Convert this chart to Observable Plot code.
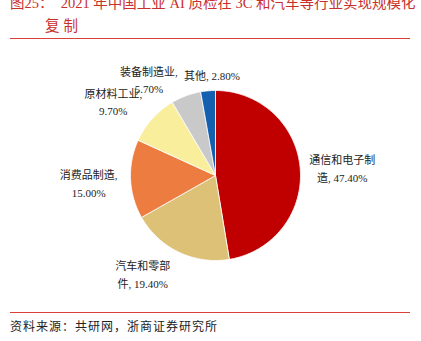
<!DOCTYPE html>
<html>
<head>
<meta charset="utf-8">
<script src="https://cdn.jsdelivr.net/npm/d3@7"></script>
<script src="https://cdn.jsdelivr.net/npm/@observablehq/plot@0.6"></script>
<style>
  html, body { margin: 0; padding: 0; background: #fff; }
  #wrap { position: relative; width: 421px; height: 341px; overflow: hidden; }
  .t { position: absolute; white-space: pre; font-family: 'Liberation Serif', 'Noto Sans CJK SC', serif; }
  #title1 { left: 10px; top: -9px; font-size: 14.5px; color: #c9302c; }
  #title2 { left: 45px; top: 14px; font-size: 14.5px; color: #c9302c; letter-spacing: 4px; }
  .rule { position: absolute; left: 10px; width: 400px; height: 0; border-top: 1.5px solid #d9403a; }
  #source { left: 10px; top: 317px; font-size: 12px; color: #222; letter-spacing: 1px; }
  #chart { position: absolute; left: 0; top: 0; }
</style>
</head>
<body>
<div id="wrap">
  <div id="chart"></div>
  <div class="t" id="title1">图25：  2021 年中国工业 AI 质检在 3C 和汽车等行业实现规模化</div>
  <div class="t" id="title2">复制</div>
  <div class="rule" style="top:38px"></div>
  <div class="rule" style="top:312px"></div>
  <div class="t" id="source">资料来源：共研网，浙商证券研究所</div>
</div>
<script>
// ---- data ----
const categories = ["通信和电子制造", "汽车和零部件", "消费品制造", "原材料工业", "装备制造业", "其他"];
const shares = [47.4, 19.4, 15.0, 9.7, 5.7, 2.8];
const colors = ["#c00000", "#ddc176", "#ec7c40", "#f9ee9b", "#c9c9c9", "#1460b0"];

// ---- layout ----
const W = 421, H = 341, cx = 215, cy = 175, R = 85;
const labelWrap = [6, 5, "comma", "comma", "comma", null];
const labelNudge = [[42, -1], [-36, 21], [-42, 3], [-39, -18], [-37, -17], [4, -16]];

const pie = d3.pie().sort(null).value(d => d.share)(categories.map((c, i) => ({category: c, share: shares[i]})));

const slicePts = [];
for (const a of pie) {
  const c = a.data.category;
  slicePts.push({category: c, x: 0, y: 0});
  const n = Math.max(2, Math.ceil((a.endAngle - a.startAngle) / (Math.PI / 180)));
  for (let k = 0; k <= n; k++) {
    const t = a.startAngle + (a.endAngle - a.startAngle) * k / n;
    slicePts.push({category: c, x: R * Math.sin(t), y: R * Math.cos(t)});
  }
  slicePts.push({category: c, x: 0, y: 0});
}

const labels = pie.map((a, i) => {
  const mid = (a.startAngle + a.endAngle) / 2;
  const name = a.data.category;
  const pct = a.data.share.toFixed(2) + "%";
  const w = labelWrap[i];
  let text;
  if (typeof w === "number") text = name.slice(0, w) + "\n" + name.slice(w) + ", " + pct;
  else if (w === "comma") text = name + ",\n" + pct;
  else text = name + ", " + pct;
  return {
    x: R * Math.sin(mid) + labelNudge[i][0],
    y: R * Math.cos(mid) - labelNudge[i][1],
    text
  };
});

const chart = Plot.plot({
  width: W,
  height: H,
  margin: 0,
  x: {domain: [-cx, W - cx], axis: null},
  y: {domain: [-(H - cy), cy], axis: null},
  color: {domain: categories, range: colors},
  marks: [
    Plot.line(slicePts, {x: "x", y: "y", z: "category", fill: "category", stroke: "#fff", strokeWidth: 0.8, curve: "linear"}),
    Plot.text(labels, {x: "x", y: "y", text: "text", textAnchor: "middle", lineAnchor: "middle", lineHeight: 1.6,
      fontSize: 11, fill: "#222", fontFamily: "'Liberation Serif', 'Noto Sans CJK SC', serif"})
  ]
});
document.getElementById("chart").appendChild(chart);
</script>
</body>
</html>
